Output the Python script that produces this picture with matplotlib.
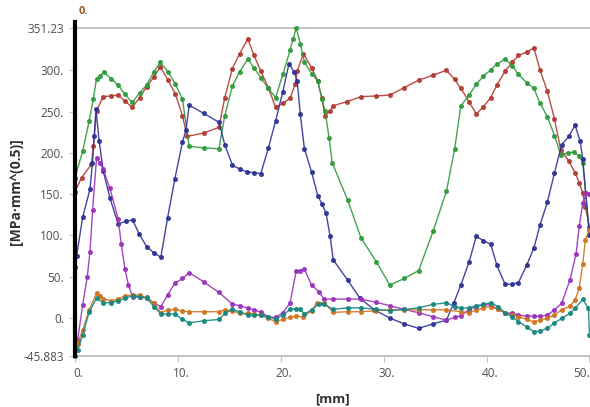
import matplotlib
matplotlib.use("Agg")
import matplotlib.pyplot as plt
import matplotlib.transforms as mtransforms

plt.rcParams['font.family'] = ['Open Sans', 'DejaVu Sans']

# series (x in mm, y in MPa*mm^0.5)
red_x = [0, 0.65, 1.6, 1.8, 2.1, 2.75, 3.46, 4.2, 4.85, 5.56, 6.3, 6.96, 7.67, 8.3, 9.06, 9.77,
         10.45, 10.9, 12.5, 14.0, 14.56, 15.3, 16.0, 16.8, 17.4, 18.06, 18.8, 19.5, 20.2, 20.9,
         21.4, 21.6, 22.2, 23.0, 23.6, 24.0, 24.3, 24.8, 25.1, 26.4, 27.8, 29.3, 30.6, 32.0,
         33.4, 34.8, 36.1, 36.9, 37.5, 38.3, 39.0, 39.7, 40.4, 41.0, 41.8, 42.5, 43.1, 43.9,
         44.6, 45.2, 45.9, 46.6, 47.2, 48.0, 48.6, 49.0, 49.35, 49.6, 50.0]
red_y = [153, 170, 186, 208, 251, 268, 269, 270, 263, 255, 267, 280, 292, 304, 288, 271,
         245, 220, 224, 231, 267, 302, 320, 338, 318, 299, 279, 255, 260, 266,
         283, 299, 320, 303, 287, 266, 245, 251, 257, 262, 268, 269, 270, 279,
         288, 294, 300, 289, 278, 262, 247, 256, 267, 282, 299, 310, 318, 322,
         327, 300, 275, 241, 204, 190, 176, 164, 151, 135, 110]

green_x = [0, 0.75, 1.39, 1.78, 2.1, 2.43, 2.8, 3.5, 4.2, 4.85, 5.56, 6.3, 6.96, 7.67, 8.3,
           9.06, 9.77, 10.45, 11.1, 12.5, 14.0, 14.56, 15.3, 16.0, 16.8, 17.4, 18.06, 18.8,
           19.5, 20.2, 20.9, 21.2, 21.5, 21.9, 22.3, 23.0, 23.6, 24.0, 24.3, 24.7, 25.0, 26.5,
           27.8, 29.3, 30.6, 32.0, 33.4, 34.8, 36.1, 36.9, 37.5, 38.3, 39.0, 39.7, 40.4, 41.0,
           41.8, 42.5, 43.1, 43.9, 44.6, 45.2, 45.9, 46.6, 47.2, 47.9, 48.5, 49.0, 49.35, 50.0]
green_y = [170, 202, 239, 265, 290, 293, 298, 290, 282, 271, 261, 273, 282, 298, 309.5,
           298, 283, 265, 208, 206, 205, 245, 281, 298, 313.5, 303, 291, 278,
           267, 295, 324, 338, 351.23, 332, 310, 296, 287, 265, 251, 218, 188, 143,
           97, 68, 40, 48, 57.5, 105, 153.5, 205, 257, 270, 283, 293, 300.5, 307.5,
           313.5, 305.5, 295, 285, 278, 260, 244, 221, 198, 200, 201, 196, 188, 100]

blue_x = [0, 0.16, 0.75, 1.46, 1.7, 1.87, 2.04, 2.36, 2.75, 3.4, 4.2, 4.95, 5.6, 6.24, 6.96,
          7.67, 8.35, 9.0, 9.7, 10.45, 10.8, 11.1, 12.5, 14.0, 14.56, 15.3, 16.0, 16.7, 17.4,
          18.06, 18.8, 19.5, 20.2, 20.8, 21.3, 21.6, 21.9, 22.3, 23.0, 23.6, 24.0, 24.4, 24.8,
          25.1, 26.5, 27.7, 29.1, 30.6, 32.0, 33.4, 34.8, 36.1, 36.8, 37.5, 38.3, 39.0, 39.7,
          40.4, 41.0, 41.8, 42.5, 43.1, 43.9, 44.6, 45.2, 45.9, 46.6, 47.3, 48.0, 48.6, 49.1,
          49.35, 50.0]
blue_y = [62, 75, 122, 156, 188, 220, 253, 214, 178, 145.5, 114, 117, 119, 102, 86.6,
          79, 73.7, 121, 168, 213, 228, 257.6, 248, 237, 210, 185, 180.6, 177, 176,
          175, 206, 238.6, 274, 308, 298, 287, 246.7, 205, 176.6, 148, 138.5, 127, 99,
          70.5, 46, 24, 10, 0, -7, -12.5, -7, -2.5, 18, 40, 68, 99, 93.6,
          89.5, 64, 41, 41, 43, 64, 85, 113, 140, 176, 210, 220, 233.6, 214,
          192, 100]

purple_x = [0, 0.26, 0.75, 1.2, 1.46, 1.72, 2.1, 2.43, 2.75, 3.4, 4.2, 4.5, 4.85, 5.2, 5.6,
            6.3, 7.0, 7.67, 8.35, 9.0, 9.7, 10.45, 11.1, 12.5, 14.0, 15.3, 16.0, 16.8, 17.4,
            18.1, 18.8, 19.5, 20.2, 20.9, 21.5, 21.9, 22.3, 23.0, 23.7, 24.2, 25.1, 26.5, 27.8,
            29.3, 30.6, 32.0, 33.4, 34.8, 36.1, 36.9, 37.5, 38.3, 39.0, 39.7, 40.4, 41.1, 41.8,
            42.5, 43.1, 43.9, 44.6, 45.2, 45.9, 46.6, 47.3, 48.1, 48.7, 49.0, 49.35, 49.7, 50.0]
purple_y = [-35, -27, 16, 50, 80, 131, 194, 188, 180, 157, 120, 90, 60, 40, 26,
            25, 25, 18, 14, 28, 42, 48, 55, 44, 31, 17, 15, 12, 10,
            7, 1.6, 0.8, 6.5, 18, 57, 57.5, 59, 40, 32, 23, 23, 23, 23,
            19, 15, 10.5, 6.5, 1.6, -2.4, 0.8, 3, 10, 14, 16, 16, 10.5, 6.5,
            5.7, 3.6, 2.4, 2.4, 2.4, 3.6, 10, 18, 46, 78, 111, 139, 152, 150]

orange_x = [0, 0.26, 0.75, 1.39, 2.1, 2.43, 2.75, 3.5, 4.2, 4.85, 5.6, 6.3, 7.0, 7.67, 8.35,
            9.0, 9.7, 10.45, 11.1, 12.5, 14.0, 14.56, 15.3, 16.0, 16.8, 17.4, 18.1, 18.8, 19.5,
            20.2, 20.9, 21.5, 22.2, 23.0, 23.5, 24.2, 25.1, 26.5, 27.8, 29.3, 30.6, 32.0, 33.4,
            34.8, 36.1, 37.5, 38.3, 39.0, 39.7, 40.4, 41.1, 41.8, 42.5, 43.1, 43.9, 44.6, 45.2,
            45.9, 46.6, 47.3, 48.1, 48.6, 49.0, 49.35, 49.6, 50.0]
orange_y = [-39, -31, -14.6, 10, 30, 27, 23, 21, 23, 27, 28, 28, 24, 18, 6.5,
            10, 10.5, 8.5, 7.7, 7.7, 7.7, 10, 9, 5.7, 5.7, 5, 3.6, -0.4, -4.5,
            -1.6, 0.8, 2.4, 1.6, 9, 18.6, 18.6, 7, 7.7, 7.7, 9, 10, 10, 10,
            10, 10, 7.7, 6.5, 10, 12.5, 14, 10.5, 6.5, 3.6, 1.6, -1.6, -4.5, -2.5,
            -0.4, 3.6, 10, 14.6, 22, 36, 66, 95, 107]

teal_x = [0, 0.26, 0.75, 1.39, 2.1, 2.75, 3.5, 4.2, 4.85, 5.6, 6.3, 7.0, 7.67, 8.35, 9.0,
          9.7, 10.45, 11.1, 12.5, 14.0, 14.56, 15.3, 16.0, 16.8, 17.4, 18.1, 18.8, 19.5, 20.2,
          20.9, 21.5, 21.9, 22.3, 23.0, 23.7, 24.2, 25.1, 26.5, 27.8, 29.3, 30.6, 32.0, 33.4,
          34.8, 36.1, 36.9, 37.5, 38.3, 39.0, 39.7, 40.4, 41.1, 41.8, 42.5, 43.1, 43.9, 44.6,
          45.2, 45.9, 46.6, 47.3, 48.1, 48.6, 49.35, 49.9, 50.0]
teal_y = [-45.883, -39, -20.6, 7.7, 24, 18.6, 18.6, 21, 24, 27, 26, 24, 14, 5, 5,
          5, -1.6, -5.7, -3.3, -1.6, 5.7, 10.5, 7.7, 3.6, 3.6, 3.6, 1.6, -1.6, 3.6,
          10.5, 11.5, 10.5, 5, 10, 17, 17, 10.5, 12.5, 12.5, 10.5, 9, 10.5, 12.5,
          16.6, 18.6, 14, 12, 12.5, 15, 16.6, 18.6, 14, 6.5, 1.6, -4.5, -10.5, -16.6,
          -15.4, -12.5, -5.7, -0.4, 5.7, 11.8, 22.7, 11.8, -20]

y_ticks = [-45.883, 0, 50, 100, 150, 200, 250, 300, 351.23]
y_tick_labels = ['-45.883', '0.', '50.', '100.', '150.', '200.', '250.', '300.', '351.23']
x_ticks = [0, 10, 20, 30, 40, 50]
x_tick_labels = ['0.', '10.', '20.', '30.', '40.', '50.']

series = [
    (red_x, red_y, '#b23a32'),
    (green_x, green_y, '#2f9a3c'),
    (blue_x, blue_y, '#2e3296'),
    (purple_x, purple_y, '#9a32bb'),
    (orange_x, orange_y, '#d0731e'),
    (teal_x, teal_y, '#17877f'),
]

fig = plt.figure(figsize=(5.9, 4.07), dpi=100)
ax = fig.add_axes([0.127, 0.1253, 0.873, 0.806])

for xs, ys, c in series:
    ax.plot(xs, ys, color=c, lw=1.0, marker='o', ms=2.6, mec=c, mfc=c, alpha=0.9,
            clip_on=False, zorder=3)

ax.set_xlim(0, 50.05)
ax.set_ylim(-45.883, 351.23)

for s in ['right', 'left']:
    ax.spines[s].set_visible(False)
for s in ['top', 'bottom']:
    ax.spines[s].set_color('#c4c4c4')
    ax.spines[s].set_linewidth(1.5)

# probe line at x = 0
ax.plot([0, 0], [-45.883, 358], color='black', lw=3, clip_on=False, zorder=4)
ax.text(0.4, 364, '0.', color='#9a5a2a', fontsize=8, fontweight='bold',
        ha='left', va='bottom')

ax.set_yticks(y_ticks)
ax.set_yticklabels(y_tick_labels)
ax.set_xticks(x_ticks)
ax.set_xticklabels(x_tick_labels)
ax.tick_params(axis='both', colors='#c4c4c4', labelcolor='#505050', labelsize=8.5,
               direction='out', length=4)
ax.tick_params(axis='y', pad=4)
ax.tick_params(axis='x', pad=4)
shift = mtransforms.ScaledTranslation(3 / 100, 0, fig.dpi_scale_trans)
xlabels = ax.get_xticklabels()
for lbl in xlabels[:-1]:
    lbl.set_ha('center')
    lbl.set_transform(lbl.get_transform() + shift)
# last label kept inside the figure edge
xlabels[-1].set_ha('right')

ax.set_xlabel('[mm]', fontsize=9.5, fontweight='bold', color='#303030', labelpad=9)
ax.yaxis.set_label_coords(-0.1, 0.5)
ax.set_ylabel('[MPa\u00b7mm^(0.5)]', fontsize=10, fontweight='bold', color='#303030')

fig.savefig('out.png', dpi=100)
